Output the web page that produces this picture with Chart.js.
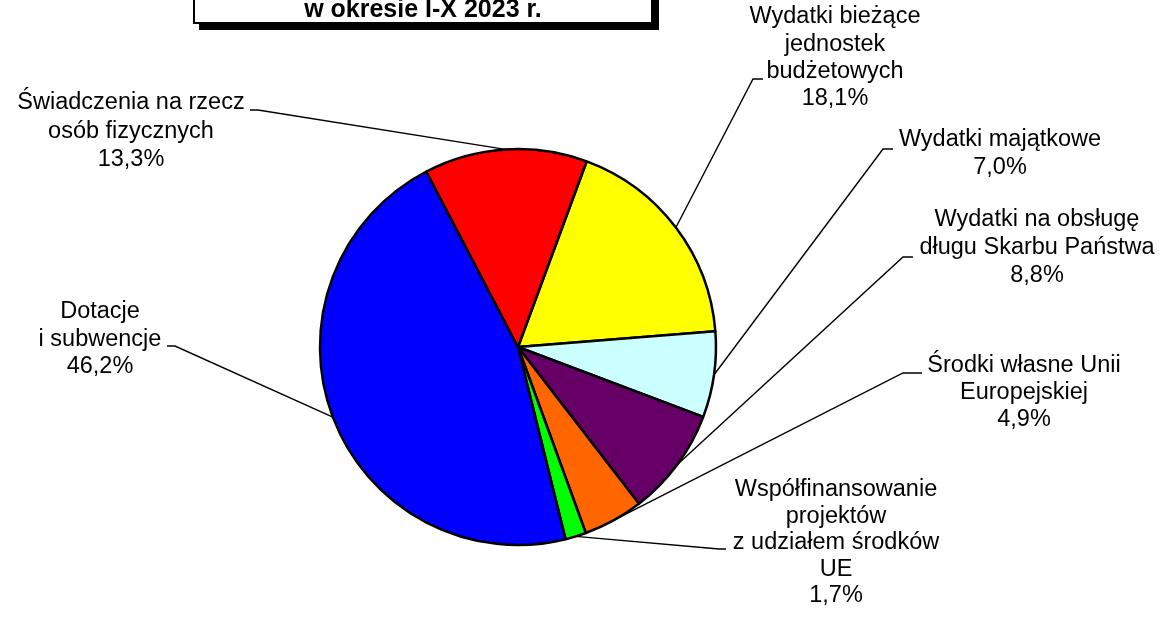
<!DOCTYPE html>
<html>
<head>
<meta charset="utf-8">
<script src="https://cdn.jsdelivr.net/npm/chart.js@4"></script>
<style>
    html, body { margin: 0; padding: 0; background: #fff; }
    #wrap { position: relative; width: 1169px; height: 620px; overflow: hidden; }
    #titleBox {
        position: absolute; left: 193px; top: -40px; width: 456px; height: 60px;
        border: 2px solid #000; background: #fff; box-shadow: 6px 6px 0 #000;
        font: bold 25px Arial, "Liberation Sans", sans-serif; text-align: center;
    }
    #titleBox span { position: absolute; left: 0; right: 0; top: 34px; line-height: 25px; }
    canvas { position: absolute; left: 0; top: 0; }
</style>
</head>
<body>
<div id="wrap">
    <canvas id="pieChart" width="1169" height="620"></canvas>
    <div id="titleBox"><span>w okresie I-X 2023 r.</span></div>
</div>
<script>
// 데이터 (%)
const categories = [
    'Wydatki bieżące\njednostek\nbudżetowych',
    'Wydatki majątkowe',
    'Wydatki na obsługę\ndługu Skarbu Państwa',
    'Środki własne Unii\nEuropejskiej',
    'Współfinansowanie\nprojektów\nz udziałem środków\nUE',
    'Dotacje\ni subwencje',
    'Świadczenia na rzecz\nosób fizycznych'
];
const shares = [18.1, 7.0, 8.8, 4.9, 1.7, 46.2, 13.3];
const sliceColors = ['#FFFF00', '#CCFFFF', '#660066', '#FF6600', '#00FF00', '#0000FF', '#FF0000'];

// 라벨 위치 (텍스트 중심 x, 첫 줄 y, 줄 간격, 꺾임점, 수평선 끝 x)
const labelLayout = [
    { cx: 835,  y0: 17,  lh: 27.3, ex: 753, ey: 79,  hx: 763 },
    { cx: 1000, y0: 140, lh: 28,   ex: 883, ey: 149, hx: 893 },
    { cx: 1037, y0: 220, lh: 28,   ex: 903, ey: 257, hx: 913 },
    { cx: 1024, y0: 366, lh: 27,   ex: 903, ey: 373, hx: 922 },
    { cx: 836,  y0: 490, lh: 26.5, ex: 719, ey: 549, hx: 726 },
    { cx: 100,  y0: 312, lh: 27.5, ex: 175, ey: 346, hx: 167 },
    { cx: 131,  y0: 103, lh: 28.5, ex: 258, ey: 110, hx: 250 }
];

function formatPct(v) {
    return v.toFixed(1).replace('.', ',') + '%';
}

// 리더 라인 + 라벨
const leaderLabels = {
    id: 'leaderLabels',
    afterDraw(chart) {
        const ctx = chart.ctx;
        const arcs = chart.getDatasetMeta(0).data;
        ctx.save();
        ctx.strokeStyle = '#000';
        ctx.lineWidth = 1.4;
        ctx.fillStyle = '#000';
        ctx.font = '23.5px Arial, "Liberation Sans", sans-serif';
        ctx.textAlign = 'center';
        ctx.textBaseline = 'middle';
        arcs.forEach((arc, i) => {
            const L = labelLayout[i];
            const mid = (arc.startAngle + arc.endAngle) / 2;
            const px = arc.x + Math.cos(mid) * arc.outerRadius;
            const py = arc.y + Math.sin(mid) * arc.outerRadius;
            ctx.beginPath();
            ctx.moveTo(px, py);
            ctx.lineTo(L.ex, L.ey);
            ctx.lineTo(L.hx, L.ey);
            ctx.stroke();
            const lines = categories[i].split('\n').concat(formatPct(shares[i]));
            lines.forEach((t, k) => ctx.fillText(t, L.cx, L.y0 + k * L.lh));
        });
        ctx.restore();
    }
};

new Chart(document.getElementById('pieChart'), {
    type: 'pie',
    data: {
        labels: categories,
        datasets: [{
            data: shares,
            backgroundColor: sliceColors,
            borderColor: '#000',
            borderWidth: 2.5
        }]
    },
    options: {
        responsive: false,
        animation: false,
        rotation: 20.3,
        radius: 198,
        layout: { padding: { left: 320, right: 453, top: 149, bottom: 75 } },
        plugins: {
            legend: { display: false },
            tooltip: { enabled: false }
        }
    },
    plugins: [leaderLabels]
});
</script>
</body>
</html>
